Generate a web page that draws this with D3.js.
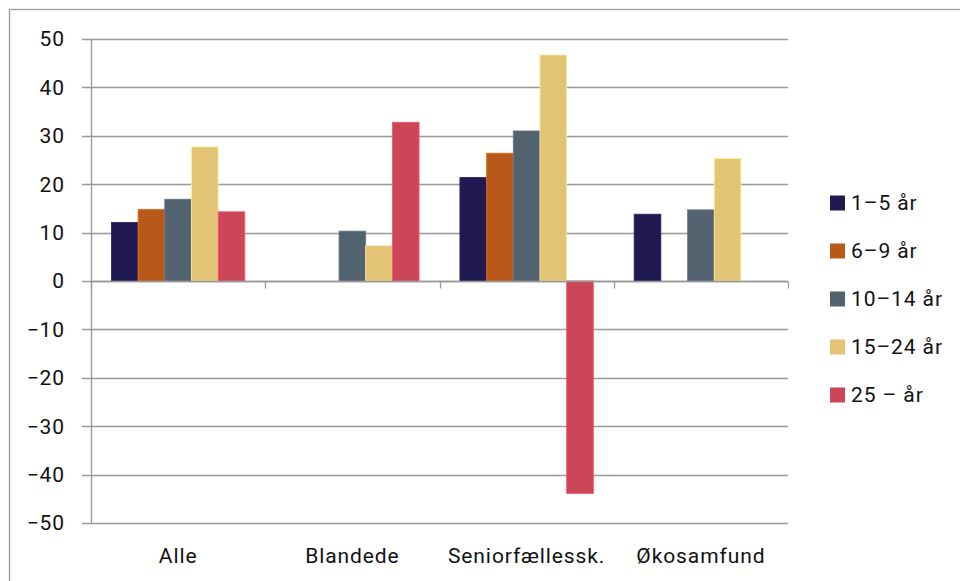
<!DOCTYPE html>
<html lang="da">
<head>
<meta charset="utf-8" />
<title>Chart</title>
<script src="https://d3js.org/d3.v7.min.js"></script>
<style>
    body { margin: 0; background: #fff; }
    svg { display: block; font-family: Roboto, "Noto Sans", sans-serif; }
    .grid line { stroke: #999; stroke-width: 1.3; }
    text { fill: #111; font-size: 21px; letter-spacing: 0.9px; }
</style>
</head>
<body>
<div id="chart"></div>
<script>
    // data
    var categories = ['Alle', 'Blandede', 'Seniorfællessk.', 'Økosamfund'];
    var seriesNames = ['1–5 år', '6–9 år', '10–14 år', '15–24 år', '25 – år'];
    var seriesColors = ['#211a52', '#b85819', '#53626f', '#e3c376', '#cb4658'];
    var values1to5 = [12.1, null, 21.4, 13.8];
    var values6to9 = [14.8, null, 26.4, null];
    var values10to14 = [16.9, 10.3, 31.0, 14.7];
    var values15to24 = [27.7, 7.3, 46.7, 25.3];
    var values25plus = [14.3, 32.8, -43.9, null];
    var yTicks = [50, 40, 30, 20, 10, 0, -10, -20, -30, -40, -50];
    var yTickLabels = ['50', '40', '30', '20', '10', '0', '−10', '−20', '−30', '−40', '−50'];

    (function(d3) {
        'use strict';

        var series = [values1to5, values6to9, values10to14, values15to24, values25plus];

        var width = 960, height = 581;
        var plotLeft = 91, plotRight = 788, plotTop = 39, plotBottom = 523;

        var svg = d3.select('#chart').append('svg')
            .attr('width', width)
            .attr('height', height);

        // outer frame
        svg.append('rect')
            .attr('x', 9.5).attr('y', 9.5)
            .attr('width', 1000).attr('height', 700)
            .attr('fill', 'none')
            .attr('stroke', '#999')
            .attr('stroke-width', 1.3);

        var x0 = d3.scaleBand().domain(categories).range([plotLeft, plotRight]);
        var x1 = d3.scaleBand().domain(d3.range(seriesNames.length))
            .range([0, x0.bandwidth()])
            .paddingInner(0).paddingOuter(0.765);
        var y = d3.scaleLinear().domain([-50, 50]).range([plotBottom, plotTop]);

        // gridlines
        var grid = svg.append('g').attr('class', 'grid');
        grid.selectAll('line').data(yTicks).enter().append('line')
            .attr('x1', plotLeft - 9).attr('x2', plotRight)
            .attr('y1', function(d) { return Math.round(y(d)) + 0.5; })
            .attr('y2', function(d) { return Math.round(y(d)) + 0.5; });

        // y labels
        svg.append('g').selectAll('text').data(yTicks).enter().append('text')
            .attr('x', 65)
            .attr('y', function(d) { return y(d); })
            .attr('dy', '0.35em')
            .attr('text-anchor', 'end')
            .text(function(d, i) { return yTickLabels[i]; });

        // bars
        var groups = svg.append('g').selectAll('g')
            .data(categories).enter().append('g')
            .attr('transform', function(d) { return 'translate(' + x0(d) + ',0)'; });

        groups.selectAll('rect')
            .data(function(d, ci) {
                return series.map(function(s, si) { return { si: si, v: s[ci] }; })
                    .filter(function(e) { return e.v !== null; });
            })
            .enter().append('rect')
            .attr('x', function(d) { return x1(d.si); })
            .attr('width', x1.bandwidth())
            .attr('y', function(d) { return y(Math.max(0, d.v)); })
            .attr('height', function(d) { return Math.abs(y(d.v) - y(0)); })
            .attr('fill', function(d) { return seriesColors[d.si]; })
            .attr('stroke', function(d) { return d3.color(seriesColors[d.si]).brighter(0.6); })
            .attr('stroke-width', 0.8);

        // y axis line
        svg.append('line')
            .attr('x1', plotLeft + 0.5).attr('x2', plotLeft + 0.5)
            .attr('y1', plotTop).attr('y2', plotBottom)
            .attr('stroke', '#999').attr('stroke-width', 1.3);

        // zero axis + category ticks
        var zy = Math.round(y(0)) + 0.5;
        svg.append('line')
            .attr('x1', plotLeft).attr('x2', plotRight)
            .attr('y1', zy).attr('y2', zy)
            .attr('stroke', '#999').attr('stroke-width', 1.3);
        var edges = categories.map(function(c) { return x0(c); }).concat([plotRight]);
        svg.append('g').selectAll('line').data(edges).enter().append('line')
            .attr('x1', function(d) { return Math.round(d) + 0.5; })
            .attr('x2', function(d) { return Math.round(d) + 0.5; })
            .attr('y1', zy).attr('y2', zy + 7)
            .attr('stroke', '#999').attr('stroke-width', 1.3);

        // category labels
        svg.append('g').selectAll('text').data(categories).enter().append('text')
            .attr('x', function(d) { return x0(d) + x0.bandwidth() / 2; })
            .attr('y', 563)
            .attr('text-anchor', 'middle')
            .text(function(d) { return d; });

        // legend
        var legend = svg.append('g').selectAll('g')
            .data(seriesNames).enter().append('g')
            .attr('transform', function(d, i) { return 'translate(830,' + (203 + i * 48) + ')'; });
        legend.append('rect')
            .attr('x', 0).attr('y', -7.5)
            .attr('width', 15).attr('height', 15)
            .attr('fill', function(d, i) { return seriesColors[i]; });
        legend.append('text')
            .attr('x', 21).attr('y', 0)
            .attr('dy', '0.35em')
            .text(function(d) { return d; });
    })(window.d3);
</script>
</body>
</html>
